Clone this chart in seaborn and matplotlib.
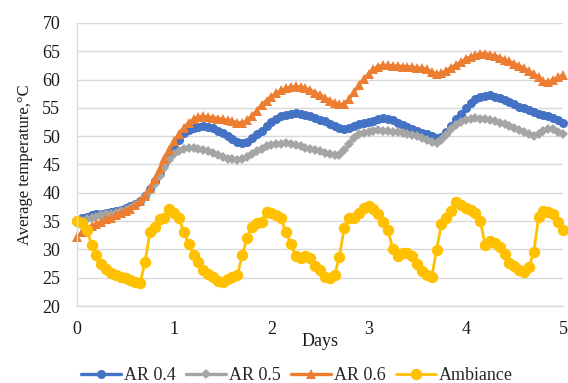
import numpy as np
import pandas as pd
import matplotlib
matplotlib.use("Agg")
import matplotlib.pyplot as plt
import seaborn as sns

# Time axis: samples every 0.05 day over five days
days = [round(i * 0.05, 2) for i in range(101)]

ar_04 = [35.0, 35.5, 35.8, 36.0, 36.2, 36.3, 36.5, 36.6, 36.8, 37.0,
         37.3, 37.6, 38.0, 38.6, 39.5, 40.6, 42.0, 43.5, 45.1, 46.6,
         48.0, 49.4, 50.5, 51.1, 51.5, 51.7, 51.8, 51.7, 51.4, 51.0,
         50.5, 50.0, 49.5, 49.0, 48.8, 49.0, 49.6, 50.3, 51.0, 51.8,
         52.5, 53.1, 53.5, 53.8, 54.0, 54.1, 54.0, 53.8, 53.5, 53.2,
         52.9, 52.6, 52.2, 51.8, 51.5, 51.3, 51.4, 51.8, 52.1, 52.3,
         52.5, 52.7, 53.0, 53.2, 53.1, 52.8, 52.4, 52.0, 51.7, 51.3,
         51.0, 50.6, 50.3, 50.0, 49.7, 49.9, 50.8, 51.8, 53.0, 54.0,
         55.0, 55.9, 56.5, 56.9, 57.1, 57.2, 57.0, 56.8, 56.4, 56.0,
         55.6, 55.2, 54.9, 54.6, 54.3, 54.0, 53.8, 53.5, 53.2, 52.8,
         52.4]

ar_05 = [34.7, 35.0, 35.3, 35.6, 35.8, 36.0, 36.2, 36.3, 36.5, 36.7,
         37.0, 37.3, 37.8, 38.4, 39.3, 40.3, 41.6, 43.0, 44.4, 45.8,
         46.8, 47.4, 47.7, 47.9, 47.9, 47.8, 47.6, 47.3, 47.0, 46.6,
         46.3, 46.0, 45.9, 45.8, 46.0, 46.4, 46.9, 47.4, 47.8, 48.2,
         48.4, 48.6, 48.7, 48.8, 48.7, 48.5, 48.3, 48.0, 47.8, 47.5,
         47.3, 47.0, 46.8, 46.6, 46.7, 47.5, 48.6, 49.6, 50.3, 50.6,
         50.8, 51.0, 51.1, 51.0, 50.9, 50.8, 50.7, 50.6, 50.4, 50.2,
         50.0, 49.7, 49.4, 49.0, 48.8, 49.3, 50.2, 51.2, 52.0, 52.5,
         52.8, 53.0, 53.2, 53.1, 53.0, 52.8, 52.6, 52.4, 52.1, 51.8,
         51.5, 51.1, 50.8, 50.4, 50.0, 50.4, 50.9, 51.3, 51.2, 50.8,
         50.3]

ar_06 = [32.2, 33.0, 33.6, 34.1, 34.5, 34.9, 35.3, 35.6, 36.0, 36.4,
         36.8, 37.2, 37.8, 38.5, 39.5, 40.8, 42.4, 44.2, 46.0, 47.6,
         49.1, 50.4, 51.5, 52.4, 53.0, 53.4, 53.5, 53.4, 53.3, 53.1,
         53.0, 52.8, 52.6, 52.4, 52.3, 52.8, 53.6, 54.5, 55.5, 56.3,
         57.0, 57.6, 58.1, 58.5, 58.7, 58.8, 58.7, 58.5, 58.1, 57.7,
         57.3, 56.8, 56.3, 55.9, 55.6, 55.7, 56.6, 57.8, 59.0, 60.1,
         61.0, 61.8, 62.3, 62.5, 62.5, 62.4, 62.4, 62.3, 62.3, 62.2,
         62.1, 62.0, 61.8, 61.4, 61.0, 61.1, 61.6, 62.1, 62.6, 63.1,
         63.6, 64.0, 64.3, 64.5, 64.6, 64.4, 64.2, 63.9, 63.5, 63.2,
         62.8, 62.4, 62.0, 61.5, 61.0, 60.4, 59.7, 59.5, 60.0, 60.4,
         60.8]

ambiance = [35.0, 34.7, 33.5, 30.8, 29.0, 27.5, 26.5, 25.8, 25.4, 25.1,
            24.9, 24.6, 24.3, 24.1, 27.8, 33.0, 34.0, 35.3, 35.5, 37.2,
            36.5, 35.5, 33.0, 31.0, 29.0, 27.8, 26.4, 25.7, 25.2, 24.4,
            24.3, 24.8, 25.2, 25.5, 29.0, 32.0, 34.0, 34.6, 34.9, 36.6,
            36.5, 36.0, 35.5, 33.0, 31.0, 28.8, 28.5, 28.8, 28.5, 27.0,
            26.3, 25.2, 24.9, 25.4, 28.7, 33.8, 35.5, 35.5, 36.5, 37.3,
            37.6, 37.2, 36.3, 34.8, 33.5, 30.0, 28.8, 29.3, 29.4, 28.8,
            27.5, 26.2, 25.5, 25.1, 29.9, 34.5, 35.6, 36.8, 38.3, 37.8,
            37.4, 37.0, 36.4, 35.0, 30.8, 31.5, 31.2, 30.5, 29.2, 27.6,
            27.0, 26.3, 26.0, 26.9, 29.5, 35.7, 36.8, 36.6, 36.3, 34.8,
            33.4]

series_names = ["AR 0.4", "AR 0.5", "AR 0.6", "Ambiance"]
x_ticks = [0, 1, 2, 3, 4, 5]
y_ticks = [20, 25, 30, 35, 40, 45, 50, 55, 60, 65, 70]

df = pd.DataFrame({
    "Days": days * 4,
    "Temperature": ar_04 + ar_05 + ar_06 + ambiance,
    "Series": [n for n in series_names for _ in days],
})

sns.set_theme(style="white")
plt.rcParams["font.family"] = ["Liberation Serif", "DejaVu Serif"]

fig = plt.figure(figsize=(5.68, 3.83), dpi=100)
ax = fig.add_axes([0.1356, 0.201, 0.8554, 0.739])

styles = {
    "AR 0.4": dict(color="#4472C4", marker="o", ms=6.5, lw=2.4),
    "AR 0.5": dict(color="#A5A5A5", marker="D", ms=5.2, lw=2.4),
    "AR 0.6": dict(color="#ED7D31", marker="^", ms=7.0, lw=2.4),
    "Ambiance": dict(color="#FFC000", marker="o", ms=8.2, lw=2.0),
}

for name in series_names:
    st = styles[name]
    sub = df[df["Series"] == name]
    sns.lineplot(data=sub, x="Days", y="Temperature", ax=ax, label=name,
                 color=st["color"], marker=st["marker"], markersize=st["ms"],
                 markeredgewidth=0, linewidth=st["lw"], clip_on=False,
                 estimator=None, sort=False)

ax.set_xlim(0, 5)
ax.set_ylim(20, 70)
ax.set_xticks(x_ticks)
ax.set_yticks(y_ticks)
ax.tick_params(axis="both", length=0, labelsize=13, colors="#1a1a1a")
ax.tick_params(axis="y", pad=12)
ax.tick_params(axis="x", pad=11)
ax.yaxis.grid(True, color="#D9D9D9", linewidth=1.0)
ax.xaxis.grid(False)
for side in ["top", "right"]:
    ax.spines[side].set_visible(False)
for side in ["left", "bottom"]:
    ax.spines[side].set_color("#D9D9D9")
    ax.spines[side].set_linewidth(1.0)

ax.set_xlabel("Days", fontsize=13, labelpad=-4, color="#1a1a1a")
ax.set_ylabel("Average temperature,°C", fontsize=12, labelpad=7, color="#1a1a1a")

ax.legend(loc="center", bbox_to_anchor=(0.453, -0.245), ncol=4,
          frameon=False, fontsize=13, handlelength=2.2, handletextpad=0.15,
          columnspacing=0.6, numpoints=1)

fig.savefig("out.png", dpi=100)
